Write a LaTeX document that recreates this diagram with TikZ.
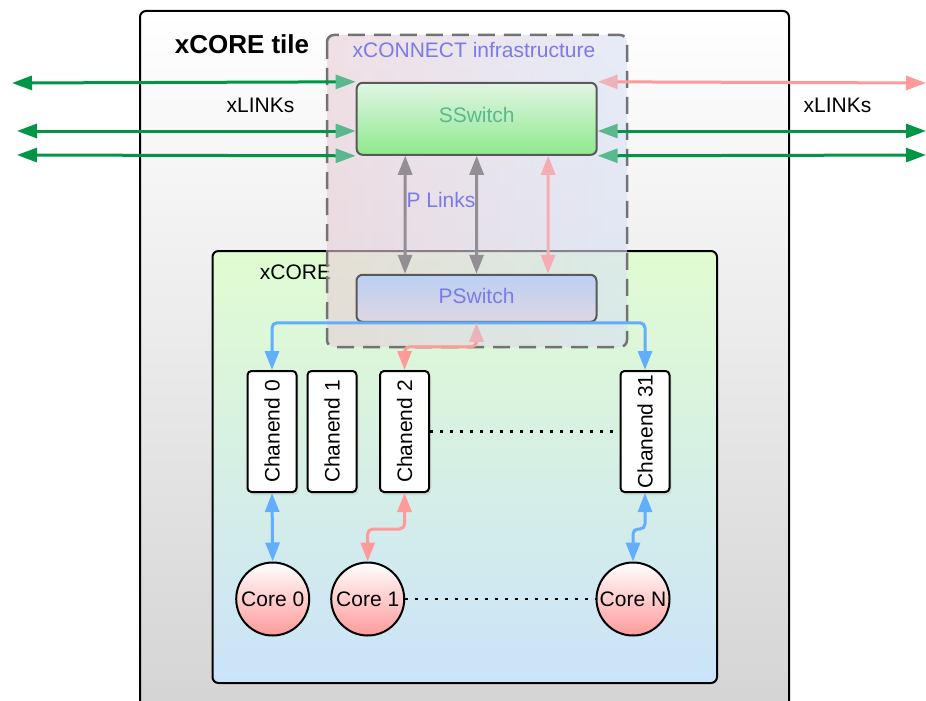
\documentclass[tikz,border=0pt]{standalone}
\usepackage{fontspec}
\setmainfont{Liberation Sans}
\usepackage{tikz}
\usetikzlibrary{arrows.meta,shadows}

\definecolor{linkgreen}{HTML}{009646}
\definecolor{tipgreen}{HTML}{5AB88E}
\definecolor{linkpink}{HTML}{FF9A9A}
\definecolor{tippink}{HTML}{EDB3BA}
\definecolor{linkgray}{HTML}{928E92}
\definecolor{plinkpink}{HTML}{F5ADB4}
\definecolor{linkblue}{HTML}{62AEFC}
\definecolor{labelblue}{HTML}{7B7BE8}
\definecolor{sswtext}{HTML}{5CB88F}
\definecolor{xcoretop}{HTML}{E1FCD1}
\definecolor{xcorebot}{HTML}{CBE3F9}
\definecolor{overpink}{HTML}{E8CDD7}
\definecolor{overblue}{HTML}{D7E1F5}
\definecolor{sstop}{HTML}{E2F5E4}
\definecolor{ssbot}{HTML}{8EE98E}
\definecolor{pstop}{HTML}{BAD0F2}
\definecolor{psbot}{HTML}{E0D6E2}

\begin{document}
\begin{tikzpicture}[x=1pt, y=-1pt,
  every node/.style={font=\fontsize{21}{25}\selectfont},
  link/.style={line width=3pt, rounded corners=5pt},
  both/.style={arrows={Triangle[length=19pt,width=14pt]-Triangle[length=19pt,width=14pt]}},
  switch/.style={draw=black!65, line width=2pt, rounded corners=6pt, minimum width=240pt},
  chan/.style={draw, line width=2pt, rounded corners=4pt, fill=white, minimum width=49pt, minimum height=121pt, inner sep=0pt, drop shadow={opacity=0.15, shadow xshift=2pt, shadow yshift=-3pt}},
  core/.style={circle, draw, line width=2pt, top color=white, bottom color=linkpink, minimum size=73pt, inner sep=0pt},
  dots/.style={line width=2.5pt, dash pattern=on 2.5pt off 7.5pt}]
  \useasboundingbox (0,0) rectangle (926,701);
  \clip (0,0) rectangle (926,701);

  \draw [line width=2pt, rounded corners=6pt, top color=white, bottom color=black!17] (140,11) rectangle (789,720);
  \node [font=\bfseries\fontsize{26}{30}\selectfont] (tile) at (242,44) {xCORE tile};

  \draw [line width=2pt, rounded corners=6pt, top color=xcoretop, bottom color=xcorebot] (212.5,251) rectangle (717,683);
  \node (xcore) at (295.5,272.5) {xCORE};

  \draw [draw=black!55, line width=2.5pt, dash pattern=on 17pt off 9pt, rounded corners=7pt, left color=overpink, right color=overblue, fill opacity=0.6] (327,35) rectangle (627,347);
  \node [labelblue] (xcon) at (474,50) {xCONNECT infrastructure};

  \coordinate (xl1) at (12,83);
  \coordinate (xl2) at (17,131);
  \coordinate (xl3) at (17,155);
  \coordinate (xr1) at (926,83);
  \coordinate (xr2) at (926,131);
  \coordinate (xr3) at (926,155);

  \node [switch, minimum height=72pt, text depth=8pt, top color=sstop, bottom color=ssbot, text=sswtext] (SSwitch) at (476.7,118.8) {SSwitch};
  \node [switch, minimum height=47pt, text depth=4pt, top color=pstop, bottom color=psbot, text=labelblue] (PSwitch) at (476.5,298.3) {PSwitch};

  \draw [link, linkgreen, arrows={Triangle[length=20pt,width=14pt]-Triangle[length=20pt,width=14pt,color=tipgreen]}] (xl1) -- (SSwitch.north west);
  \draw [link, linkgreen, arrows={Triangle[length=20pt,width=14pt]-Triangle[length=20pt,width=14pt,color=tipgreen]}] (xl2) -- (xl2 -| SSwitch.west);
  \draw [link, linkgreen, arrows={Triangle[length=20pt,width=14pt]-Triangle[length=20pt,width=14pt,color=tipgreen]}] (xl3) -- (SSwitch.south west);
  \draw [link, linkpink, arrows={Triangle[length=20pt,width=14pt,color=tippink]-Triangle[length=20pt,width=14pt]}] (SSwitch.north east) -- (xr1);
  \draw [link, linkgreen, arrows={Triangle[length=20pt,width=14pt,color=tipgreen]-Triangle[length=20pt,width=14pt]}] (xr2 -| SSwitch.east) -- (xr2);
  \draw [link, linkgreen, arrows={Triangle[length=20pt,width=14pt,color=tipgreen]-Triangle[length=20pt,width=14pt]}] (SSwitch.south east) -- (xr3);
  \node (xlinkl) at (260.5,105) {xLINKs};
  \node (xlinkr) at (837.5,105) {xLINKs};

  \draw [link, linkgray, both] ([xshift=-71.5pt]SSwitch.south) -- ([xshift=-71.5pt]PSwitch.north);
  \draw [link, linkgray, both] (SSwitch.south) -- (PSwitch.north);
  \draw [link, plinkpink, both] ([xshift=71.5pt]SSwitch.south) -- ([xshift=71.5pt]PSwitch.north);
  \node [labelblue] (plinks) at (441,200) {P Links};

  \node [chan] (ch0) at (272,431.5) {\rotatebox{90}{Chanend 0}};
  \node [chan] (ch1) at (332,431.5) {\rotatebox{90}{Chanend 1}};
  \node [chan] (ch2) at (404.5,431.5) {\rotatebox{90}{Chanend 2}};
  \node [chan] (ch31) at (645,431.5) {\rotatebox{90}{Chanend 31}};

  \node [core] (c0) at (272.7,599) {Core 0};
  \node [core] (c1) at (367.7,599) {Core 1};
  \node [core] (cN) at (633,599) {Core N};

  \draw [link, linkblue, both] (ch0.north) |- (PSwitch.south) -| (ch31.north);
  \draw [link, linkpink, arrows={Triangle[length=19pt,width=14pt,color=tippink]-Triangle[length=19pt,width=14pt]}] (PSwitch.south) -- ++(0,24) -| (ch2.north);
  \draw [link, linkblue, both] (ch0.south) -- (c0.north);
  \draw [link, linkpink, both] (ch2.south) -- ++(0,36) -| (c1.north);
  \draw [link, linkblue, both] (ch31.south) -- ++(0,36) -| (cN.north);

  \draw [dots] (ch2.east) -- (ch31.west);
  \draw [dots] (c1.east) -- (cN.west);
\end{tikzpicture}
\end{document}
